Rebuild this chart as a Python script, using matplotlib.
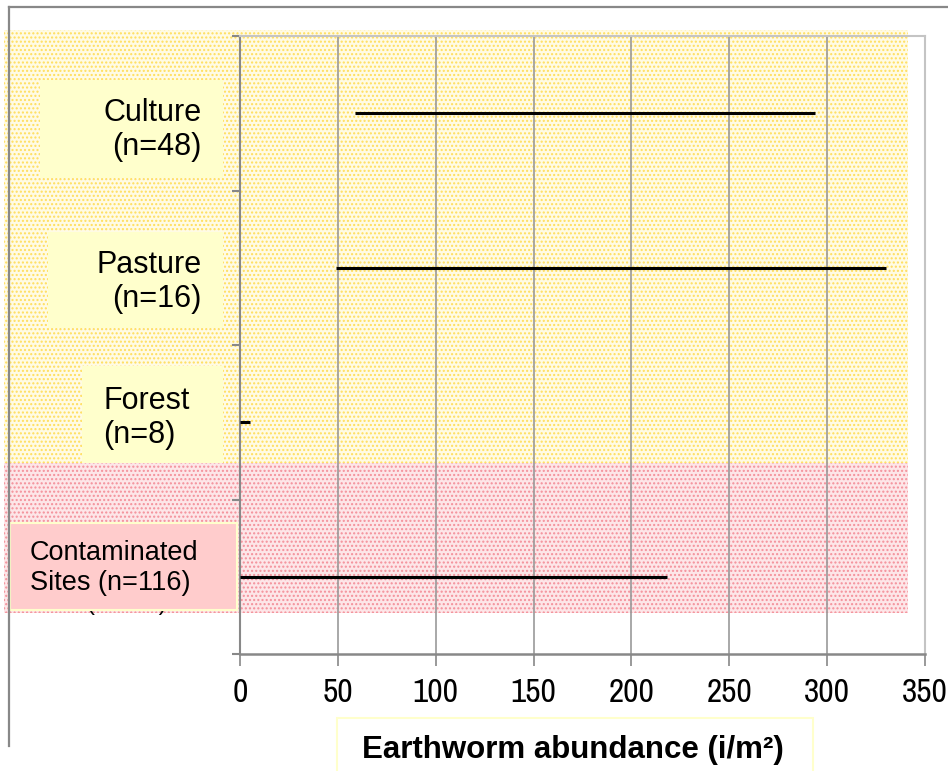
import matplotlib
matplotlib.use("Agg")
import matplotlib.pyplot as plt
from matplotlib import font_manager
from matplotlib.patches import Rectangle
from matplotlib.lines import Line2D

plt.rcParams["font.family"] = ["Liberation Sans", "DejaVu Sans"]
plt.rcParams["hatch.linewidth"] = 1.0

# data
categories = ["Culture", "Pasture", "Forest", "Contaminated Sites"]
counts = [48, 16, 8, 116]
range_low = [59, 49, 0, 0]
range_high = [294, 330, 5, 218]
x_ticks = [0, 50, 100, 150, 200, 250, 300, 350]

# narrow font for the tick numbers, if one is around
installed = sorted({f.name for f in font_manager.fontManager.ttflist})
narrow = [n for n in installed if "Narrow" in n or "Condensed" in n]
tick_family = (narrow[:1] or ["Liberation Sans"]) + ["DejaVu Sans"]
tick_size = 24 if narrow else 19

W, H = 948, 771
fig = plt.figure(figsize=(W / 100, H / 100), dpi=100)


def fx(px):
    return px / W


def fy(py):
    return 1 - py / H


def fig_rect(x0, y0, x1, y1, **kw):
    r = Rectangle((fx(x0), fy(y1)), fx(x1) - fx(x0), fy(y0) - fy(y1),
                  transform=fig.transFigure, **kw)
    fig.patches.append(r)
    return r


# dotted backgrounds
fig_rect(4, 30, 908, 463, facecolor="#FFFBE4", edgecolor="#FFDE5C",
         hatch="....", lw=0, zorder=-10)
fig_rect(4, 463, 908, 613, facecolor="#FDE6E8", edgecolor="#F4909A",
         hatch="....", lw=0, zorder=-10)

# outer frame
fig.lines.append(Line2D([fx(9), 1], [fy(7), fy(7)], transform=fig.transFigure,
                        color="#888888", lw=1.6))
fig.lines.append(Line2D([fx(9), fx(9)], [fy(7), fy(746)], transform=fig.transFigure,
                        color="#888888", lw=1.6))

ax = fig.add_axes([fx(240), fy(654), fx(925) - fx(240), fy(36) - fy(654)])
ax.set_facecolor("none")
ax.set_xlim(0, 350)
ax.set_ylim(0, 4)

ypos = [3.5, 2.5, 1.5, 0.5]
ax.hlines(ypos, range_low, range_high, colors="black", lw=2.2, zorder=3)

ax.set_xticks(x_ticks)
ax.set_yticks([0, 1, 2, 3, 4])
ax.set_yticklabels([])
ax.grid(True, axis="x", color="#999999", lw=1.2)
ax.set_axisbelow(True)
ax.tick_params(axis="x", direction="out", length=8.5, width=1.2, color="#888888",
               pad=9, labelsize=tick_size)
ax.tick_params(axis="y", direction="out", length=6, width=1.5, color="#888888")
for lab in ax.get_xticklabels():
    lab.set_family(tick_family)

ax.spines["bottom"].set_color("#888888")
ax.spines["bottom"].set_linewidth(1.8)
ax.spines["left"].set_color("#888888")
ax.spines["left"].set_linewidth(1.5)
for s in ("top", "right"):
    ax.spines[s].set_color("#C4C4C4")
    ax.spines[s].set_linewidth(1.5)

# leftover text mostly hidden under the contaminated box
fig.text(fx(87), fy(610), "(n=%d)" % counts[3], fontsize=17, ha="left",
         va="baseline", zorder=-5)

# category label boxes
fig_rect(40, 80, 223, 178, facecolor="#FFFFCC", lw=0, zorder=-4)
fig.text(fx(202), fy(130), "%s\n(n=%d)" % (categories[0], counts[0]), fontsize=22,
         ha="right", va="center", multialignment="right", linespacing=1.2)

fig_rect(48, 232, 223, 328, facecolor="#FFFFCC", lw=0, zorder=-4)
fig.text(fx(202), fy(282), "%s\n(n=%d)" % (categories[1], counts[1]), fontsize=22,
         ha="right", va="center", multialignment="right", linespacing=1.2)

fig_rect(82, 366, 223, 463, facecolor="#FFFFCC", lw=0, zorder=-4)
fig.text(fx(103), fy(418), "%s\n(n=%d)" % (categories[2], counts[2]), fontsize=22,
         ha="left", va="center", multialignment="left", linespacing=1.2)

fig_rect(10, 523, 237, 610, facecolor="#FFCCCC", edgecolor="#FFFFCC", lw=1.5, zorder=-4)
c_words = categories[3].split(" ")
fig.text(fx(30), fy(568), "%s\n%s (n=%d)" % (c_words[0], c_words[1], counts[3]),
         fontsize=19.5, ha="left", va="center", multialignment="left", linespacing=1.2)

# x label box
fig_rect(337, 718, 813, 780, facecolor="white", edgecolor="#FFFFCC", lw=1.5, zorder=-4)
fig.text(fx(573), fy(750), "Earthworm abundance (i/m²)", fontsize=22.5,
         fontweight="bold", ha="center", va="center")

fig.savefig("out.png", dpi=100)
